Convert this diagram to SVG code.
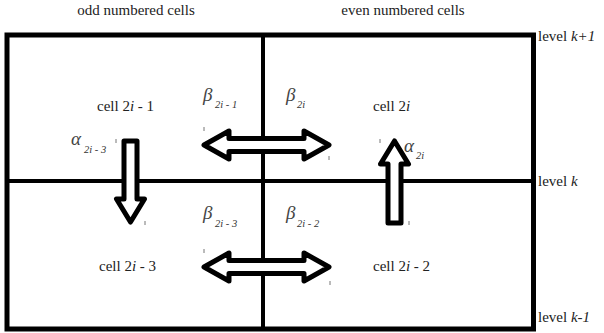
<svg xmlns="http://www.w3.org/2000/svg" width="604" height="333" viewBox="0 0 604 333">
<rect width="604" height="333" fill="#fff"/>
<g id="grid" fill="none" stroke="#000">
<line x1="263" y1="35" x2="263" y2="329" stroke-width="4"/>
<line x1="7" y1="181" x2="534" y2="181" stroke-width="4"/>
<rect x="7" y="35" width="526.5" height="294" stroke-width="5"/>
</g>
<g id="headers" fill="#222" font-size="15">
<text style="font-family:'Liberation Serif',serif" x="136" y="15" text-anchor="middle">odd numbered cells</text>
<text style="font-family:'Liberation Serif',serif" x="403" y="15" text-anchor="middle">even numbered cells</text>
</g>
<g id="levels" fill="#222" font-size="15">
<text style="font-family:'Liberation Serif',serif" x="538" y="41">level <tspan font-style="italic">k+1</tspan></text>
<text style="font-family:'Liberation Serif',serif" x="538" y="186">level <tspan font-style="italic">k</tspan></text>
<text style="font-family:'Liberation Serif',serif" x="538" y="322">level <tspan font-style="italic">k-1</tspan></text>
</g>
<g id="cell-2i-1" fill="#222" font-size="15"><text style="font-family:'Liberation Serif',serif" x="97" y="111">cell 2<tspan font-style="italic">i</tspan> - 1</text></g>
<g id="cell-2i" fill="#222" font-size="15"><text style="font-family:'Liberation Serif',serif" x="373" y="111">cell 2<tspan font-style="italic">i</tspan></text></g>
<g id="cell-2i-3" fill="#222" font-size="15"><text style="font-family:'Liberation Serif',serif" x="99" y="271">cell 2<tspan font-style="italic">i</tspan> - 3</text></g>
<g id="cell-2i-2" fill="#222" font-size="15"><text style="font-family:'Liberation Serif',serif" x="373" y="271">cell 2<tspan font-style="italic">i</tspan> - 2</text></g>
<g id="connectors" fill="#fff" stroke="#000" stroke-width="5" stroke-linejoin="round">
<path d="M204,145 L229,131 L229,138.5 L304,138.5 L304,131 L329,145 L304,159 L304,151.5 L229,151.5 L229,159 Z"/>
<path d="M204,267 L229,253 L229,260.5 L304,260.5 L304,253 L329,267 L304,281 L304,273.5 L229,273.5 L229,281 Z"/>
<path d="M124,141 L137,141 L137,199 L144.5,199 L130.5,222 L116.5,199 L124,199 Z"/>
<path d="M394.5,141 L408.5,164 L401,164 L401,223 L388,223 L388,164 L380.5,164 Z"/>
</g>
<g id="ticks" stroke="#777" stroke-width="1">
<line x1="116" y1="139" x2="116" y2="143"/>
<line x1="145" y1="221" x2="145" y2="225"/>
<line x1="204" y1="127" x2="204" y2="131"/>
<line x1="329" y1="156" x2="329" y2="160"/>
<line x1="204" y1="249" x2="204" y2="253"/>
<line x1="330" y1="281" x2="330" y2="285"/>
<line x1="380" y1="139" x2="380" y2="143"/>
<line x1="409" y1="221" x2="409" y2="225"/>
</g>
<g id="labels" font-style="italic">
<text fill="#444" font-size="19" style="font-family:'Liberation Serif',serif" x="203" y="101">β</text><text fill="#333" font-size="10.5" style="font-family:'Liberation Serif',serif" x="215" y="108">2i - 1</text>
<text fill="#444" font-size="19" style="font-family:'Liberation Serif',serif" x="286" y="101">β</text><text fill="#333" font-size="10.5" style="font-family:'Liberation Serif',serif" x="297" y="108">2i</text>
<text fill="#444" font-size="19" style="font-family:'Liberation Serif',serif" x="203" y="219">β</text><text fill="#333" font-size="10.5" style="font-family:'Liberation Serif',serif" x="215" y="227">2i - 3</text>
<text fill="#444" font-size="19" style="font-family:'Liberation Serif',serif" x="286" y="219">β</text><text fill="#333" font-size="10.5" style="font-family:'Liberation Serif',serif" x="297" y="227">2i - 2</text>
<text fill="#444" font-size="19" style="font-family:'Liberation Serif',serif" x="71" y="145">α</text><text fill="#333" font-size="10.5" style="font-family:'Liberation Serif',serif" x="84" y="153">2i - 3</text>
<text fill="#444" font-size="19" style="font-family:'Liberation Serif',serif" x="404" y="152">α</text><text fill="#333" font-size="10.5" style="font-family:'Liberation Serif',serif" x="416" y="159">2i</text>
</g>
</svg>
